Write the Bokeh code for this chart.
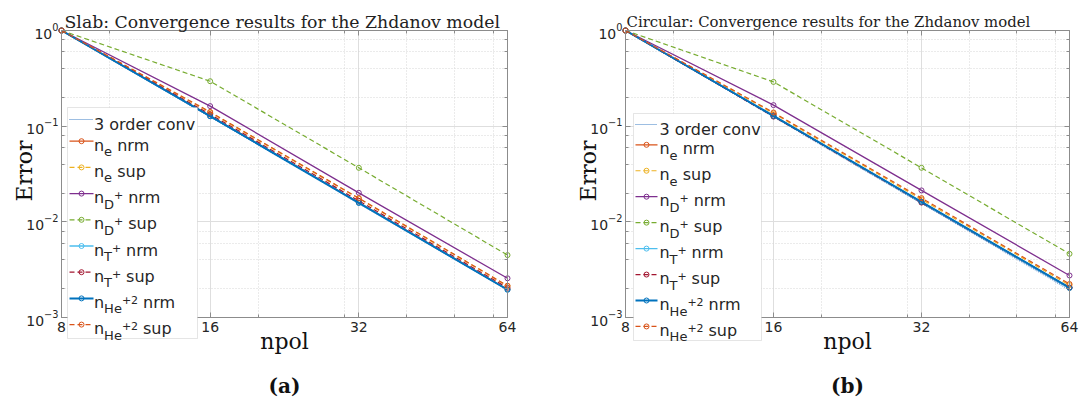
from bokeh.plotting import figure
from bokeh.layouts import row
from bokeh.models import (Range1d, LinearScale, LogAxis, FixedTicker, LogTicker,
                          BasicTickFormatter, CustomJSTickFormatter, Label, Arrow,
                          BoxAnnotation)
from bokeh.embed import file_html
from bokeh.resources import INLINE
import math

# ---------------- data ----------------
npol = [8, 16, 32, 64]
x_major_ticks = [8, 16, 32, 64]
x_minor_ticks = [10, 20, 30, 40, 50, 60]
x_lo, x_hi = 8, 64
y_lo, y_hi = 1e-3, 1.0

conv3 = [1.0, 0.125, 0.0156, 0.00195]

slab_ne_nrm = [1.0, 0.128, 0.0159, 0.00197]
slab_ne_sup = [1.0, 0.139, 0.0175, 0.00213]
slab_D_nrm = [1.0, 0.162, 0.0201, 0.00257]
slab_D_sup = [1.0, 0.295, 0.0367, 0.00449]
slab_T_nrm = [1.0, 0.127, 0.0158, 0.00196]
slab_T_sup = [1.0, 0.133, 0.0166, 0.00204]
slab_He_nrm = [1.0, 0.127, 0.0158, 0.00195]
slab_He_sup = [1.0, 0.141, 0.0177, 0.00215]

circ_ne_nrm = [1.0, 0.128, 0.0161, 0.00204]
circ_ne_sup = [1.0, 0.136, 0.0172, 0.00218]
circ_D_nrm = [1.0, 0.166, 0.0213, 0.00275]
circ_D_sup = [1.0, 0.290, 0.0367, 0.00463]
circ_T_nrm = [1.0, 0.127, 0.0160, 0.00203]
circ_T_sup = [1.0, 0.126, 0.0159, 0.00206]
circ_He_nrm = [1.0, 0.128, 0.0162, 0.00205]
circ_He_sup = [1.0, 0.139, 0.0177, 0.00224]

conv_label = "3 order conv"
species = ["e", "e", "D", "D", "T", "T", "He", "He"]
charges = ["", "", "+", "+", "+", "+", "+2", "+2"]
kinds = ["nrm", "sup", "nrm", "sup", "nrm", "sup", "nrm", "sup"]

slab_title = "Slab:  Convergence results for the Zhdanov model"
circ_title = "Circular: Convergence results for the Zhdanov model"
x_label = "npol"
y_label = "Error"

# ---------------- styles ----------------
colors = ["#D95319", "#EDB120", "#7E2F8E", "#77AC30", "#4DBEEE", "#A2142F", "#0072BD", "#D95319"]
dashes = ["solid", "5 3", "solid", "5 3", "solid", "5 3", "solid", "5 3"]
widths = [1.3, 1.2, 1.3, 1.2, 1.3, 1.2, 2.0, 1.2]
conv_color = "#3B7CC4"
AX = "#8c8c8c"
TXT = "#262626"
SERIF = "DejaVu Serif"
SANS = "DejaVu Sans"
W, H = 544, 398


def tick_style(ax):
    ax.axis_line_color = AX
    ax.major_tick_line_color = AX
    ax.minor_tick_line_color = AX
    ax.major_tick_in = 5
    ax.major_tick_out = 0
    ax.minor_tick_in = 3
    ax.minor_tick_out = 0


def make_panel(title, series, box, leg, caption, title_size, title_x, title_align, ylab_x):
    bl, br, bt, bb = box  # pixel position of the axes box inside the canvas
    # extend the log ranges so that the whole canvas is the frame and the
    # axes box sits where the reference has it
    kx = math.log2(x_hi / x_lo) / (br - bl)
    ky = math.log10(y_hi / y_lo) / (bb - bt)
    xr = Range1d(x_lo * 2 ** (-bl * kx), x_hi * 2 ** ((W - br) * kx))
    yr = Range1d(y_lo * 10 ** (-(H - bb) * ky), y_hi * 10 ** (bt * ky))
    p = figure(width=W, height=H, x_axis_type="log", y_axis_type="log",
               x_range=xr, y_range=yr, output_backend="svg", toolbar_location=None,
               min_border=0)
    p.background_fill_color = "white"
    p.border_fill_color = "white"
    p.outline_line_color = None
    p.title.visible = False

    # pixel helper ranges (canvas coordinates, y downwards)
    p.extra_x_ranges = {"px": Range1d(0, W)}
    p.extra_y_ranges = {"px": Range1d(H, 0)}
    p.extra_x_scales = {"px": LinearScale()}
    p.extra_y_scales = {"px": LinearScale()}

    xa = p.xaxis[0]
    xa.ticker = FixedTicker(ticks=x_major_ticks, minor_ticks=x_minor_ticks)
    xa.formatter = BasicTickFormatter()
    xa.fixed_location = y_lo
    xa.bounds = (x_lo, x_hi)
    xa.major_label_standoff = 4
    ya = p.yaxis[0]
    ya.ticker = LogTicker()
    ya.fixed_location = x_lo
    ya.bounds = (y_lo, y_hi)
    ya.major_label_standoff = 3
    for ax in (xa, ya):
        tick_style(ax)
        ax.major_label_text_font = SANS
        ax.major_label_text_font_size = "14px"
        ax.major_label_text_color = TXT

    blank = CustomJSTickFormatter(code="return ''")
    top = LogAxis(ticker=FixedTicker(ticks=x_major_ticks, minor_ticks=x_minor_ticks),
                  formatter=blank, fixed_location=y_hi, bounds=(x_lo, x_hi))
    right = LogAxis(ticker=LogTicker(), formatter=blank, fixed_location=x_hi, bounds=(y_lo, y_hi))
    tick_style(top)
    tick_style(right)
    p.add_layout(top, "above")
    p.add_layout(right, "right")

    gx, gy = p.xgrid[0], p.ygrid[0]
    gx.bounds = (x_lo, x_hi)
    gx.cross_bounds = (y_lo, y_hi)
    gy.bounds = (y_lo, y_hi)
    gy.cross_bounds = (x_lo, x_hi)
    for g in (gx, gy):
        g.grid_line_color = "#dedede"
        g.grid_line_width = 1
        g.minor_grid_line_color = "#d6d6d6"
        g.minor_grid_line_dash = "1 2"
        g.minor_grid_line_width = 1

    # data lines
    p.line(npol, conv3, line_color=conv_color, line_width=1.2, line_dash="1 1")
    for vals, c, d, w in zip(series, colors, dashes, widths):
        p.line(npol, vals, line_color=c, line_width=w, line_dash=d)
        p.scatter(npol, vals, marker="circle", size=5, line_color=c, fill_color=None, line_width=1)

    def label(x, y, s, font, size, align="left", style="normal", angle=0.0, color=TXT):
        p.add_layout(Label(x=x, y=y, text=s, text_font=font, text_font_size=size,
                           text_font_style=style, text_color=color, angle=angle,
                           text_baseline="alphabetic", text_align=align,
                           x_range_name="px", y_range_name="px"))

    # titles / axis labels / caption
    label(title_x, 21, title, SERIF, title_size, align=title_align, color="#222222")
    label((bl + br) / 2, 341, x_label, SERIF, "22px", align="center", color="#111111")
    label(ylab_x, (bt + bb) / 2 - 3, y_label, SERIF, "22px", align="center",
          angle=math.pi / 2, color="#111111")
    label((bl + br) / 2, 385, caption, SERIF, "20px", align="center", style="bold",
          color="#111111")

    # ---------------- legend (drawn by hand for sub/superscripts) ----------------
    lbl, lbr, lbt, lbb, conv_y, y0, dy, lx0, lx1, tx = leg
    p.add_layout(BoxAnnotation(left=lbl, right=lbr, top=lbt, bottom=lbb,
                               x_range_name="px", y_range_name="px",
                               fill_color="white", fill_alpha=1.0,
                               line_color="#a8a8a8", line_width=1))
    mx = (lx0 + lx1) / 2
    mk_x, mk_y, mk_c = [], [], []

    def sample(y, c, d, w, marker):
        p.add_layout(Arrow(end=None, x_start=lx0, y_start=y, x_end=lx1, y_end=y,
                           line_color=c, line_width=w, line_dash=d,
                           x_range_name="px", y_range_name="px"))
        if marker:
            mk_x.append(mx)
            mk_y.append(y)
            mk_c.append(c)

    sample(conv_y, conv_color, "1 1", 1.2, False)
    label(tx, conv_y + 5, conv_label, SANS, "16px")
    sub_w = {"e": 8.0, "D": 10.0, "T": 7.9, "He": 17.8}
    sup_w = {"": 0.0, "+": 9.0, "+2": 16.0}
    for i in range(8):
        y = y0 + dy * i
        sample(y, colors[i], dashes[i], widths[i], True)
        label(tx, y + 4, "n", SANS, "16px")
        sx = tx + 10.1
        label(sx, y + 10.5, species[i], SANS, "13px")
        ex = sx + sub_w[species[i]]
        if charges[i]:
            label(ex, y + 1.5, charges[i], SANS, "11px")
            ex += sup_w[charges[i]]
        label(ex + 5.1, y + 4, kinds[i], SANS, "16px")
    # legend markers, drawn on the overlay level so that they sit on the legend box
    p.scatter(mk_x, mk_y, marker="circle", size=5, line_color=mk_c, fill_color=None,
              line_width=1, x_range_name="px", y_range_name="px", level="overlay")
    return p


slab_series = [slab_ne_nrm, slab_ne_sup, slab_D_nrm, slab_D_sup,
               slab_T_nrm, slab_T_sup, slab_He_nrm, slab_He_sup]
circ_series = [circ_ne_nrm, circ_ne_sup, circ_D_nrm, circ_D_sup,
               circ_T_nrm, circ_T_sup, circ_He_nrm, circ_He_sup]

p1 = make_panel(slab_title, slab_series, (61, 507, 30, 317),
                (67, 197, 107, 338, 119, 140.7, 26.2, 69, 93, 93.5),
                "(a)", "17.3px", 284.5, "center", 24)
p2 = make_panel(circ_title, circ_series, (81, 525, 30, 317),
                (89, 217, 113, 340, 124, 144.3, 25.95, 91, 113, 115),
                "(b)", "14.9px", 82, "left", 44)

layout = row(p1, p2)
open("out.html", "w").write(file_html(layout, INLINE))
